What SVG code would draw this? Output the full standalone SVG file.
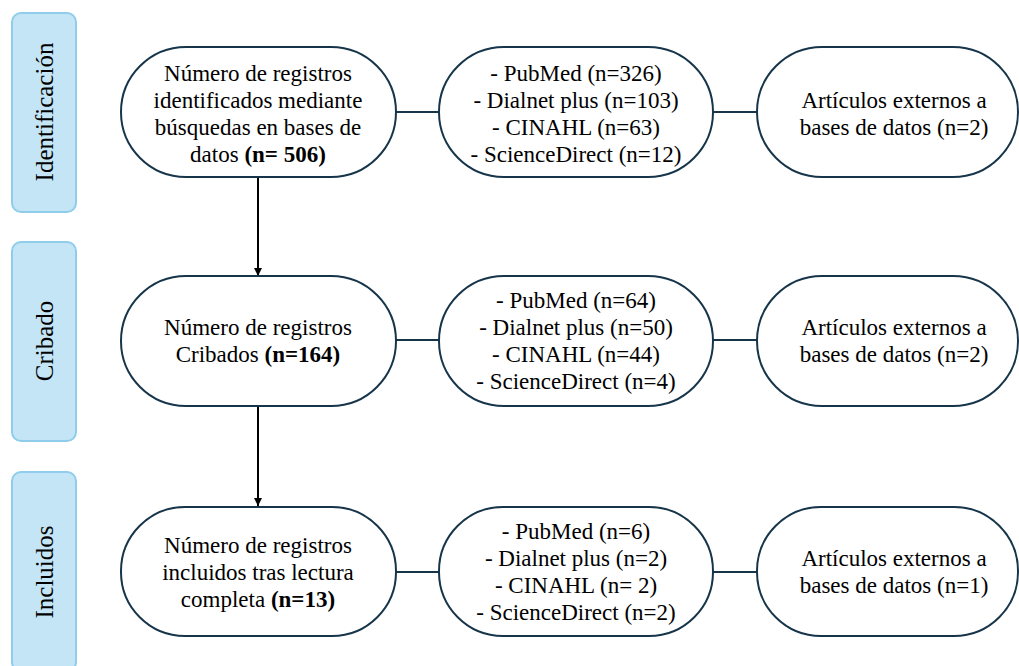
<svg xmlns="http://www.w3.org/2000/svg" width="1019" height="666" viewBox="0 0 1019 666">
<style>
.lab{fill:#c3e5f5;stroke:#8fcdea;stroke-width:2}
.node{fill:#fff;stroke:#17354a;stroke-width:2}
.t{font-size:23px;fill:#000;text-anchor:middle}
.lt{font-size:25px;fill:#000;text-anchor:middle}
.c{stroke:#17354a;stroke-width:2;fill:none}
.a{stroke:#000;stroke-width:2;fill:none;marker-end:url(#ah)}
</style>
<defs>
<marker id="ah" viewBox="0 0 10 10" refX="10" refY="5" markerWidth="4" markerHeight="4" orient="auto"><path d="M0,0L10,5L0,10z" fill="#000"/></marker>
</defs>
<rect width="1019" height="666" fill="#fff"/>
<g font-family="Liberation Serif, Times New Roman, serif">
<g id="lab-identificacion"><rect class="lab" x="12" y="13" width="64" height="199" rx="9"/><text class="lt" transform="translate(53,112) rotate(-90)">Identificación</text></g>
<g id="lab-cribado"><rect class="lab" x="12" y="242" width="64" height="199" rx="9"/><text class="lt" transform="translate(53,341) rotate(-90)">Cribado</text></g>
<g id="lab-incluidos"><rect class="lab" x="12" y="472" width="64" height="199" rx="9"/><text class="lt" transform="translate(53,572) rotate(-90)">Incluidos</text></g>
<g id="connectors">
<line class="c" x1="396" y1="112" x2="440" y2="112"/>
<line class="c" x1="713" y1="112" x2="757" y2="112"/>
<line class="c" x1="396" y1="340" x2="440" y2="340"/>
<line class="c" x1="713" y1="340" x2="757" y2="340"/>
<line class="c" x1="396" y1="572" x2="440" y2="572"/>
<line class="c" x1="713" y1="572" x2="757" y2="572"/>
<line class="a" x1="258" y1="178" x2="258" y2="276"/>
<line class="a" x1="258" y1="406" x2="258" y2="506"/>
</g>
<g id="n1"><rect class="node" x="121" y="47" width="275" height="130" rx="65"/>
<text class="t" x="258" y="81">Número de registros</text>
<text class="t" x="258" y="108">identificados mediante</text>
<text class="t" x="258" y="135">búsquedas en bases de</text>
<text class="t" x="258" y="162">datos <tspan font-weight="bold">(n= 506)</tspan></text></g>
<g id="n2"><rect class="node" x="439" y="47" width="274" height="130" rx="65"/>
<text class="t" x="576" y="81">- PubMed (n=326)</text>
<text class="t" x="576" y="108">- Dialnet plus (n=103)</text>
<text class="t" x="576" y="135">- CINAHL (n=63)</text>
<text class="t" x="576" y="162">- ScienceDirect (n=12)</text></g>
<g id="n3"><rect class="node" x="757" y="47" width="261" height="130" rx="65"/>
<text class="t" x="894" y="108">Artículos externos a</text>
<text class="t" x="894" y="135">bases de datos (n=2)</text></g>
<g id="n4"><rect class="node" x="121" y="276" width="275" height="130" rx="65"/>
<text class="t" x="258" y="335">Número de registros</text>
<text class="t" x="258" y="362">Cribados <tspan font-weight="bold">(n=164)</tspan></text></g>
<g id="n5"><rect class="node" x="439" y="276" width="274" height="130" rx="65"/>
<text class="t" x="576" y="308">- PubMed (n=64)</text>
<text class="t" x="576" y="335">- Dialnet plus (n=50)</text>
<text class="t" x="576" y="362">- CINAHL (n=44)</text>
<text class="t" x="576" y="389">- ScienceDirect (n=4)</text></g>
<g id="n6"><rect class="node" x="757" y="276" width="261" height="130" rx="65"/>
<text class="t" x="894" y="335">Artículos externos a</text>
<text class="t" x="894" y="362">bases de datos (n=2)</text></g>
<g id="n7"><rect class="node" x="121" y="507" width="275" height="129" rx="64"/>
<text class="t" x="258" y="553">Número de registros</text>
<text class="t" x="258" y="580">incluidos tras lectura</text>
<text class="t" x="258" y="607">completa <tspan font-weight="bold">(n=13)</tspan></text></g>
<g id="n8"><rect class="node" x="439" y="507" width="274" height="129" rx="64"/>
<text class="t" x="576" y="539">- PubMed (n=6)</text>
<text class="t" x="576" y="566">- Dialnet plus (n=2)</text>
<text class="t" x="576" y="593">- CINAHL (n= 2)</text>
<text class="t" x="576" y="620">- ScienceDirect (n=2)</text></g>
<g id="n9"><rect class="node" x="757" y="507" width="261" height="129" rx="64"/>
<text class="t" x="894" y="566">Artículos externos a</text>
<text class="t" x="894" y="593">bases de datos (n=1)</text></g>
</g>
</svg>
